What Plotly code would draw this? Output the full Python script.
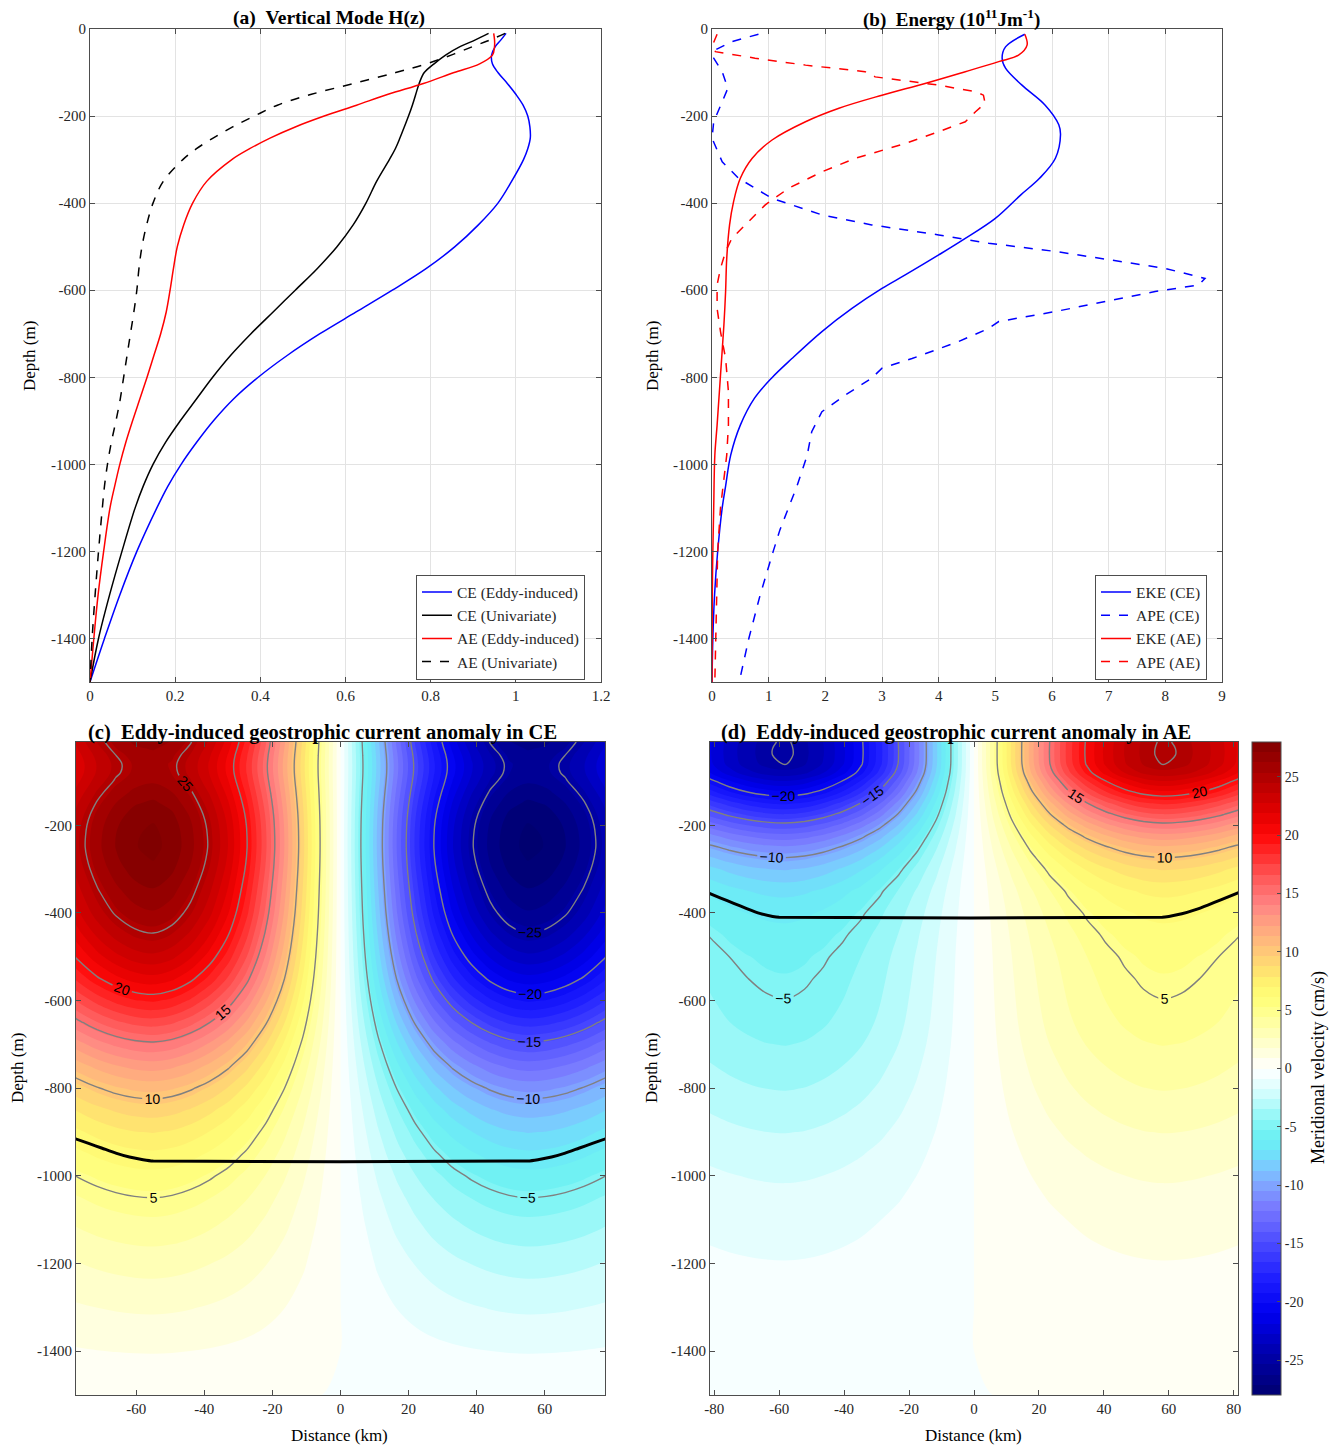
import numpy as np
import plotly.graph_objects as go

SERIF = "Liberation Serif"
SANS = "Liberation Sans"
W, HT = 1339, 1447

# ---------------- data: panel (a) vertical modes ----------------
depth_h = [-10, -25, -40, -60, -80, -100, -125, -150, -175, -200, -225, -250, -275, -300,
           -350, -400, -450, -500, -550, -600, -650, -700, -750, -800, -850, -900, -950,
           -1000, -1050, -1100, -1200, -1300, -1400, -1500]
h_ce_eddy = [0.977, 0.965, 0.952, 0.943, 0.945, 0.958, 0.980, 1.000, 1.017, 1.028, 1.033, 1.034,
             1.028, 1.018, 0.990, 0.958, 0.912, 0.857, 0.790, 0.710, 0.625, 0.540, 0.463, 0.395,
             0.337, 0.290, 0.250, 0.214, 0.183, 0.157, 0.110, 0.070, 0.034, 0.0]
h_ce_uni = [0.936, 0.905, 0.870, 0.835, 0.808, 0.785, 0.773, 0.765, 0.757, 0.748, 0.738, 0.728,
            0.717, 0.703, 0.673, 0.648, 0.618, 0.580, 0.534, 0.482, 0.430, 0.378, 0.330, 0.288,
            0.250, 0.212, 0.177, 0.148, 0.125, 0.106, 0.075, 0.046, 0.020, 0.0]
h_ae_eddy = [0.948, 0.950, 0.950, 0.945, 0.915, 0.855, 0.783, 0.700, 0.626, 0.550, 0.482, 0.424,
             0.375, 0.333, 0.274, 0.241, 0.220, 0.205, 0.196, 0.188, 0.179, 0.166, 0.150, 0.134,
             0.117, 0.100, 0.084, 0.070, 0.058, 0.047, 0.032, 0.019, 0.009, 0.0]
h_ae_uni = [0.975, 0.940, 0.900, 0.848, 0.790, 0.718, 0.620, 0.520, 0.440, 0.386, 0.335, 0.290,
            0.250, 0.218, 0.172, 0.148, 0.133, 0.122, 0.115, 0.110, 0.103, 0.095, 0.087, 0.079,
            0.071, 0.061, 0.050, 0.041, 0.034, 0.029, 0.020, 0.012, 0.005, 0.0]

# ---------------- data: panel (b) energy ----------------
eke_ce_d = [-12, -41, -67, -90, -129, -175, -220, -243, -297, -343, -381, -435, -481, -519, -565,
            -596, -642, -695, -757, -802, -848, -910, -979, -1050, -1100, -1200, -1300, -1400, -1500]
eke_ce_v = [5.52, 5.18, 5.12, 5.18, 5.47, 5.88, 6.12, 6.15, 6.06, 5.78, 5.45, 5.0, 4.47, 4.0, 3.41,
            3.0, 2.47, 1.94, 1.41, 1.05, 0.75, 0.50, 0.33, 0.24, 0.18, 0.10, 0.045, 0.015, 0.0]
ape_ce_d = [-12, -29, -48, -67, -98, -136, -167, -213, -251, -305, -343, -389, -427, -450, -473,
            -492, -511, -534, -550, -573, -588, -603, -626, -649, -672, -688, -718, -757, -779,
            -802, -841, -879, -925, -979, -1050, -1100, -1150, -1200, -1300, -1400, -1500]
ape_ce_v = [0.82, 0.35, 0.06, 0.03, 0.18, 0.28, 0.18, 0.03, 0.0, 0.18, 0.47, 1.06, 1.94, 2.82, 4.0,
            4.88, 6.06, 7.24, 8.0, 8.7, 8.59, 7.82, 6.94, 6.06, 5.06, 4.88, 4.35, 3.53, 3.0,
            2.82, 2.35, 1.94, 1.76, 1.68, 1.5, 1.35, 1.2, 1.08, 0.85, 0.65, 0.48]
eke_ae_d = [-12, -37, -60, -75, -98, -125, -152, -182, -213, -255, -297, -343, -397, -450, -527,
            -603, -680, -795, -910, -979, -1100, -1200, -1300, -1500]
eke_ae_v = [5.52, 5.56, 5.41, 5.06, 4.47, 3.76, 3.0, 2.24, 1.65, 1.06, 0.71, 0.5, 0.38, 0.31, 0.26,
            0.24, 0.21, 0.15, 0.09, 0.05, 0.03, 0.015, 0.005, 0.0]
ape_ae_d = [-12, -37, -52, -67, -83, -98, -110, -129, -144, -152, -171, -190, -213, -236, -263,
            -297, -328, -366, -404, -450, -481, -511, -550, -588, -642, -695, -757, -833, -910,
            -979, -1050, -1100, -1200, -1300, -1400, -1500]
ape_ae_v = [0.09, 0.01, 0.06, 0.76, 1.65, 2.7, 2.88, 4.0, 4.65, 4.79, 4.82, 4.65, 4.47, 4.0, 3.41,
            2.53, 1.94, 1.35, 0.94, 0.59, 0.35, 0.24, 0.15, 0.09, 0.09, 0.15, 0.24, 0.29, 0.29,
            0.26, 0.2, 0.15, 0.1, 0.08, 0.06, 0.05]

# ---------------- data: panels (c),(d) sections ----------------
prof_r = [-1.5, -1.4, -1.3, -1.2, -1.1, -1.0, -0.9, -0.8, -0.7, -0.6, -0.5, -0.4, -0.3, -0.2, -0.1,
          0.0, 0.1, 0.2, 0.3, 0.4, 0.5, 0.6, 0.7, 0.8, 0.9, 1.0, 1.1, 1.2, 1.3, 1.4, 1.5]
prof_g = [0.805, 0.866, 0.920, 0.962, 0.990, 1.000, 0.982, 0.940, 0.880, 0.805, 0.710, 0.595,
          0.465, 0.320, 0.163, 0.0, -0.163, -0.320, -0.465, -0.595, -0.710, -0.805, -0.880,
          -0.940, -0.982, -1.000, -0.990, -0.962, -0.920, -0.866, -0.805]
radius_ce, radius_ae = 55.0, 58.0
amp_ce, amp_ae = 27.3, -26.5

bnd_ce_x = [-78, -74, -70, -66, -62, -58, -55, 55, 58, 62, 66, 70, 74, 78]
bnd_ce_d = [-915, -926, -937, -948, -957, -963, -966, -966, -963, -957, -948, -937, -926, -915]
bnd_ae_x = [-82, -78, -74, -70, -66, -62, -60, 58, 60, 64, 68, 72, 76, 82]
bnd_ae_d = [-354, -366, -378, -390, -401, -408, -410, -410, -408, -402, -393, -382, -370, -352]

cmap_vals = [-28, -24, -21, -18, -16, -14, -12, -10, -8.5, -7, -5.5, -4, -2.5, -1, 0, 1, 2.5, 4,
             5.5, 7, 8.5, 10, 12, 14, 16, 18, 20, 22, 24, 26, 28]
cmap_cols = ['#000070', '#0000B4', '#0000F0', '#1E1EFF', '#3C3CFF', '#5A5AFF', '#7878FF', '#80A4FF',
             '#7CC8FF', '#6CE8F8', '#70F2F2', '#98F8F8', '#C8FCFC', '#ECFFFF', '#FFFFFF', '#FFFFE6',
             '#FFFFC4', '#FFFFA0', '#FFFF80', '#FFF870', '#FFE070', '#FFC878', '#FFA880', '#FF8484',
             '#FF6060', '#FF3434', '#FF0808', '#E00000', '#C00000', '#A00000', '#800000']

ticks_a_x = [0, 0.2, 0.4, 0.6, 0.8, 1.0, 1.2]
ticks_b_x = [0, 1, 2, 3, 4, 5, 6, 7, 8, 9]
ticks_ab_y = [0, -200, -400, -600, -800, -1000, -1200, -1400]
ticks_c_x = [-60, -40, -20, 0, 20, 40, 60]
ticks_d_x = [-80, -60, -40, -20, 0, 20, 40, 60, 80]
ticks_cd_y = [-200, -400, -600, -800, -1000, -1200, -1400]
ticks_cb = [-25, -20, -15, -10, -5, 0, 5, 10, 15, 20, 25]

# ---------------- helpers ----------------
def dom_x(a, b):
    return [a / W, b / W]

def dom_y(top, bottom):
    return [1 - bottom / HT, 1 - top / HT]

def fmt(v):
    return f"{v:g}"

colorscale = [[(v + 28) / 56, c] for v, c in zip(cmap_vals, cmap_cols)]

fig = go.Figure()

# panel (a)
a_series = [
    (h_ce_eddy, 'CE (Eddy-induced)', '#0000FF', 'solid'),
    (h_ce_uni, 'CE (Univariate)', '#000000', 'solid'),
    (h_ae_eddy, 'AE (Eddy-induced)', '#FF0000', 'solid'),
    (h_ae_uni, 'AE (Univariate)', '#000000', 'dash'),
]
for vals, name, col, dash in a_series:
    fig.add_trace(go.Scatter(x=vals, y=depth_h, mode='lines', name=name,
                             line=dict(color=col, width=1.5, dash=dash, shape='spline', smoothing=1.0),
                             xaxis='x', yaxis='y', legend='legend'))

# panel (b)
b_series = [
    (eke_ce_v, eke_ce_d, 'EKE (CE)', '#0000FF', 'solid', 'spline'),
    (ape_ce_v, ape_ce_d, 'APE (CE)', '#0000FF', 'dash', 'linear'),
    (eke_ae_v, eke_ae_d, 'EKE (AE)', '#FF0000', 'solid', 'spline'),
    (ape_ae_v, ape_ae_d, 'APE (AE)', '#FF0000', 'dash', 'linear'),
]
for vals, dep, name, col, dash, shp in b_series:
    fig.add_trace(go.Scatter(x=vals, y=dep, mode='lines', name=name,
                             line=dict(color=col, width=1.5, dash=dash, shape=shp),
                             xaxis='x2', yaxis='y2', legend='legend2'))

# panels (c),(d)
def add_section(h, amp, radius, xa, ya, showscale, bx, bd):
    x = [r * radius for r in prof_r]
    z = amp * np.outer(np.array(h), np.array(prof_g))
    fig.add_trace(go.Contour(
        x=x, y=depth_h, z=z, xaxis=xa, yaxis=ya, colorscale=colorscale,
        zmin=-28, zmax=28, zauto=False, autocontour=False, showlegend=False,
        contours=dict(start=-28, end=28, size=0.875, coloring='fill', showlines=False),
        line=dict(width=0, smoothing=1), showscale=showscale, hoverinfo='skip',
        colorbar=dict(x=1252 / W, xanchor='left', thickness=29, len=653 / HT, lenmode='fraction',
                      y=1 - 1395 / HT, yanchor='bottom', tickvals=ticks_cb, xpad=0, ypad=0,
                      ticktext=[fmt(v) for v in ticks_cb], ticks='inside', ticklen=4,
                      tickcolor='#4d4d4d', outlinecolor='#4d4d4d', outlinewidth=1,
                      tickfont=dict(family=SERIF, size=14, color='#262626'))))
    for s, e in [(5, 25), (-25, -5)]:
        fig.add_trace(go.Contour(
            x=x, y=depth_h, z=z, xaxis=xa, yaxis=ya, autocontour=False, showlegend=False,
            contours=dict(start=s, end=e, size=5, coloring='none', showlabels=True,
                          labelfont=dict(family=SANS, size=14, color='black')),
            line=dict(color='#808080', width=1.4, smoothing=1), showscale=False, hoverinfo='skip'))
    fig.add_trace(go.Scatter(x=bx, y=bd, mode='lines', xaxis=xa, yaxis=ya, showlegend=False,
                             line=dict(color='black', width=3, shape='spline', smoothing=0.5)))

add_section(h_ce_eddy, amp_ce, radius_ce, 'x3', 'y3', False, bnd_ce_x, bnd_ce_d)
add_section(h_ae_eddy, amp_ae, radius_ae, 'x4', 'y4', True, bnd_ae_x, bnd_ae_d)

axis_base = dict(showline=True, linecolor='#4d4d4d', linewidth=1, mirror='ticks', ticks='inside',
                 ticklen=5, tickcolor='#4d4d4d', zeroline=False, automargin=False,
                 tickfont=dict(family=SERIF, size=15, color='#262626'))
grid = dict(showgrid=True, gridcolor='#E3E3E3', gridwidth=1)
nogrid = dict(showgrid=False)

legend_style = dict(yanchor='middle', xanchor='right', bgcolor='white', bordercolor='#4d4d4d',
                    borderwidth=1, tracegroupgap=0, itemwidth=30,
                    font=dict(family=SERIF, size=15.5, color='#262626'))

fig.update_layout(
    width=W, height=HT, margin=dict(l=0, r=0, t=0, b=0, pad=0, autoexpand=False),
    paper_bgcolor='white', plot_bgcolor='white',
    xaxis=dict(**axis_base, **grid, domain=dom_x(90, 601), range=[0, 1.2], anchor='y',
               tickvals=ticks_a_x, ticktext=[fmt(v) for v in ticks_a_x]),
    yaxis=dict(**axis_base, **grid, domain=dom_y(29, 682), range=[-1500, 0], anchor='x',
               tickvals=ticks_ab_y, ticktext=[fmt(v) for v in ticks_ab_y]),
    xaxis2=dict(**axis_base, **grid, domain=dom_x(712, 1222), range=[0, 9], anchor='y2',
                tickvals=ticks_b_x, ticktext=[fmt(v) for v in ticks_b_x]),
    yaxis2=dict(**axis_base, **grid, domain=dom_y(29, 682), range=[-1500, 0], anchor='x2',
                tickvals=ticks_ab_y, ticktext=[fmt(v) for v in ticks_ab_y]),
    xaxis3=dict(**axis_base, **nogrid, domain=dom_x(76, 605), range=[-77.7, 77.7], anchor='y3',
                tickvals=ticks_c_x, ticktext=[fmt(v) for v in ticks_c_x]),
    yaxis3=dict(**axis_base, **nogrid, domain=dom_y(742, 1395), range=[-1500, -10], anchor='x3',
                tickvals=ticks_cd_y, ticktext=[fmt(v) for v in ticks_cd_y]),
    xaxis4=dict(**axis_base, **nogrid, domain=dom_x(710, 1238), range=[-81.3, 81.3], anchor='y4',
                tickvals=ticks_d_x, ticktext=[fmt(v) for v in ticks_d_x]),
    yaxis4=dict(**axis_base, **nogrid, domain=dom_y(742, 1395), range=[-1500, -10], anchor='x4',
                tickvals=ticks_cd_y, ticktext=[fmt(v) for v in ticks_cd_y]),
    legend=dict(x=585 / W, y=1 - 627 / HT, **legend_style),
    legend2=dict(x=1207 / W, y=1 - 627 / HT, **legend_style),
)

NB = '\u00a0'
ann = []
def add_text(text, xpx, ypx, size, angle=0, bold=False):
    t = f"<b>{text}</b>" if bold else text
    ann.append(dict(text=t, x=xpx / W, y=1 - ypx / HT, xref='paper', yref='paper',
                    xanchor='center', yanchor='middle', showarrow=False, textangle=angle,
                    font=dict(family=SERIF, size=size, color='black')))

add_text(f"(a){NB}{NB}Vertical Mode H(z)", 329, 18, 19.5, bold=True)
add_text(f"(b){NB}{NB}Energy (10<sup>11</sup>Jm<sup>-1</sup>)", 951, 18, 19, bold=True)
add_text(f"(c){NB}{NB}Eddy-induced geostrophic current anomaly in CE", 322, 732, 20.5, bold=True)
add_text(f"(d){NB}{NB}Eddy-induced geostrophic current anomaly in AE", 956, 732, 20.5, bold=True)
add_text("Depth (m)", 30, 356, 17, angle=-90)
add_text("Depth (m)", 653, 356, 17, angle=-90)
add_text("Depth (m)", 17, 1068, 17, angle=-90)
add_text("Depth (m)", 651, 1068, 17, angle=-90)
add_text("Distance (km)", 340, 1435, 17)
add_text("Distance (km)", 973, 1435, 17)
add_text("Meridional velocity (cm/s)", 1318, 1068, 18, angle=-90)
fig.update_layout(annotations=ann)

fig.write_html("out.html",
               post_script="document.body.style.margin='0';document.body.style.padding='0';")
